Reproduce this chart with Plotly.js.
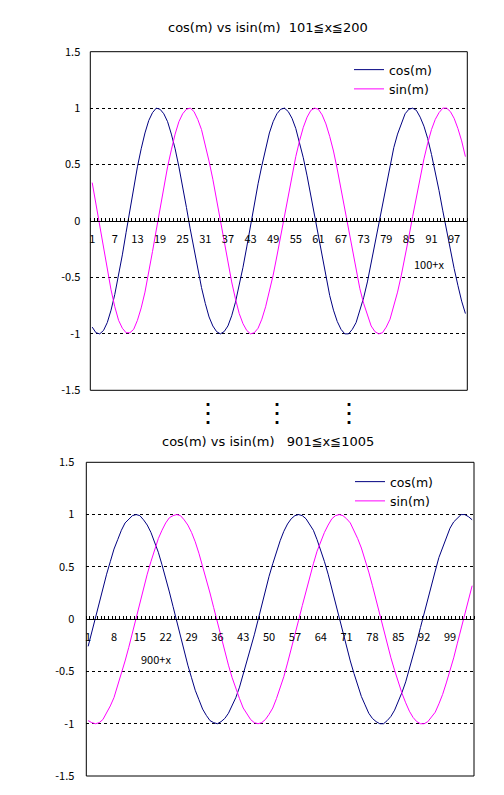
<!DOCTYPE html>
<html>
<head>
<meta charset="utf-8">
<script src="https://cdn.plot.ly/plotly-3.0.1.min.js"></script>
<style>html,body{margin:0;padding:0;background:#fff;}#chart{width:504px;height:795px;}</style>
</head>
<body>
<div id="chart"></div>
<script>
// ---- Top chart: 101 <= x <= 200 (category = x - 100) ----
const cosTop = [-0.94,-0.99,-1.00,-0.97,-0.90,-0.79,-0.65,-0.48,-0.30,-0.10,
  0.10,0.29,0.48,0.64,0.78,0.89,0.96,1.00,0.99,0.95,
  0.88,0.77,0.64,0.48,0.31,0.12,-0.07,-0.25,-0.43,-0.59,
  -0.73,-0.85,-0.93,-0.98,-1.00,-0.98,-0.93,-0.84,-0.72,-0.57,
  -0.41,-0.23,-0.04,0.15,0.33,0.49,0.65,0.78,0.88,0.95,
  0.99,1.00,0.97,0.91,0.82,0.70,0.56,0.40,0.22,0.04,
  -0.15,-0.33,-0.51,-0.66,-0.79,-0.89,-0.96,-1.00,-1.00,-0.96,
  -0.90,-0.80,-0.68,-0.54,-0.37,-0.20,-0.02,0.16,0.34,0.50,
  0.65,0.77,0.87,0.95,0.99,1.00,0.98,0.92,0.84,0.73,
  0.59,0.44,0.27,0.09,-0.09,-0.26,-0.42,-0.57,-0.71,-0.82];
const sinTop = [0.34,0.15,-0.06,-0.25,-0.44,-0.61,-0.76,-0.88,-0.95,-0.99,
  -0.99,-0.96,-0.88,-0.77,-0.63,-0.46,-0.27,-0.08,0.11,0.30,
  0.48,0.63,0.77,0.88,0.95,0.99,1.00,0.97,0.90,0.81,
  0.68,0.53,0.37,0.19,0.00,-0.19,-0.37,-0.54,-0.69,-0.82,
  -0.91,-0.97,-1.00,-0.99,-0.95,-0.87,-0.76,-0.63,-0.48,-0.31,
  -0.13,0.06,0.24,0.41,0.57,0.71,0.83,0.92,0.98,1.00,
  0.99,0.94,0.86,0.75,0.62,0.46,0.28,0.09,-0.09,-0.27,
  -0.44,-0.60,-0.73,-0.84,-0.93,-0.98,-1.00,-0.99,-0.94,-0.87,
  -0.76,-0.63,-0.48,-0.32,-0.14,0.04,0.21,0.39,0.55,0.69,
  0.81,0.90,0.96,1.00,1.00,0.97,0.91,0.82,0.71,0.57];
const tickTop = ['1','7','13','19','25','31','37','43','49','55','61','67','73','79','85','91','97'];

// ---- Bottom chart: 901 <= x <= 1005 (category = x - 900) ----
const cosBot = [-0.26,-0.12,0.01,0.16,0.30,0.43,0.55,0.67,0.76,0.85,
  0.92,0.96,0.99,1.00,0.99,0.95,0.90,0.83,0.74,0.64,
  0.52,0.40,0.26,0.12,-0.02,-0.17,-0.31,-0.44,-0.56,-0.68,
  -0.77,-0.86,-0.92,-0.97,-0.99,-1.00,-0.98,-0.95,-0.90,-0.83,
  -0.75,-0.65,-0.53,-0.41,-0.28,-0.15,-0.01,0.14,0.27,0.41,
  0.53,0.65,0.75,0.84,0.91,0.96,0.99,1.00,0.99,0.96,
  0.91,0.85,0.76,0.66,0.55,0.43,0.29,0.16,0.02,-0.13,
  -0.26,-0.40,-0.52,-0.63,-0.74,-0.82,-0.90,-0.95,-0.98,-1.00,
  -1.00,-0.97,-0.93,-0.87,-0.79,-0.70,-0.60,-0.48,-0.35,-0.22,
  -0.08,0.06,0.20,0.33,0.46,0.59,0.69,0.79,0.87,0.93,
  0.97,1.00,1.00,0.98,0.95];
const sinBot = [-0.97,-0.99,-1.00,-0.99,-0.96,-0.90,-0.83,-0.75,-0.64,-0.53,
  -0.40,-0.27,-0.13,0.01,0.16,0.30,0.43,0.55,0.67,0.77,
  0.85,0.92,0.97,0.99,1.00,0.99,0.95,0.90,0.83,0.74,
  0.63,0.51,0.39,0.25,0.11,-0.03,-0.17,-0.31,-0.44,-0.56,
  -0.67,-0.76,-0.85,-0.91,-0.96,-0.99,-1.00,-0.99,-0.96,-0.91,
  -0.85,-0.76,-0.66,-0.55,-0.42,-0.29,-0.15,-0.01,0.13,0.27,
  0.41,0.53,0.65,0.75,0.83,0.90,0.96,0.99,1.00,0.99,
  0.96,0.92,0.85,0.77,0.68,0.57,0.45,0.32,0.18,0.04,
  -0.10,-0.23,-0.37,-0.49,-0.61,-0.71,-0.80,-0.88,-0.94,-0.98,
  -1.00,-1.00,-0.98,-0.94,-0.89,-0.81,-0.72,-0.61,-0.50,-0.37,
  -0.23,-0.09,0.05,0.19,0.32];
const tickBot = ['1','8','15','22','29','36','43','50','57','64','71','78','85','92','99'];

const yTickVals = [-1.5,-1,-0.5,0,0.5,1,1.5];
const yTickText = ['-1.5','-1','-0.5','0','0.5','1','1.5'];

const idx = arr => arr.map((_, i) => i + 1);
const xTop = idx(cosTop), xBot = idx(cosBot);

const W = 504, H = 795;
const px = v => v / W, py = v => 1 - v / H;
const FONT = 'Noto Sans CJK JP, Noto Sans, sans-serif';
const WIDE = 'DejaVu Sans, Noto Sans CJK JP, sans-serif';
const NAVY = '#000080', MAG = '#FF00FF';

const traces = [
  {x: xTop, y: cosTop, name: 'cos(m)', type: 'scatter', mode: 'lines', line: {color: NAVY, width: 1}, xaxis: 'x', yaxis: 'y', legend: 'legend'},
  {x: xTop, y: sinTop, name: 'sin(m)', type: 'scatter', mode: 'lines', line: {color: MAG, width: 1}, xaxis: 'x', yaxis: 'y', legend: 'legend'},
  {x: xBot, y: cosBot, name: 'cos(m)', type: 'scatter', mode: 'lines', line: {color: NAVY, width: 1}, xaxis: 'x2', yaxis: 'y2', legend: 'legend2'},
  {x: xBot, y: sinBot, name: 'sin(m)', type: 'scatter', mode: 'lines', line: {color: MAG, width: 1}, xaxis: 'x2', yaxis: 'y2', legend: 'legend2'}
];

const topY = [py(390.3), py(51.7)];
const botY = [py(776), py(462.3)];

function xAxis(domain, yDom, n, labels) {
  const vals = labels.map(Number);
  return {
    domain: domain, anchor: 'free', position: (yDom[0] + yDom[1]) / 2,
    range: [0.5, n + 0.5], tickmode: 'array', tickvals: vals, ticktext: labels,
    showline: true, linecolor: '#000', linewidth: 1, showgrid: false, zeroline: false,
    ticks: '', ticklabelstandoff: 8,
    minor: {tickmode: 'linear', tick0: 0.5, dtick: 1, ticks: 'inside', ticklen: 3, tickcolor: '#000', tickwidth: 1, showgrid: false},
    tickfont: {family: FONT, size: 11, color: '#000'}, fixedrange: true
  };
}
function yAxis(domain, anchor, standoff) {
  return {
    domain: domain, anchor: anchor, range: [-1.5, 1.5],
    tickmode: 'array', tickvals: yTickVals, ticktext: yTickText,
    showgrid: true, gridcolor: '#000', gridwidth: 1, griddash: '3px,3px',
    zeroline: true, zerolinecolor: '#000', zerolinewidth: 1,
    showline: false, ticks: '', ticklabelstandoff: standoff,
    tickfont: {family: FONT, size: 11, color: '#000'}, fixedrange: true
  };
}

const layout = {
  width: W, height: H, margin: {l: 0, r: 0, t: 0, b: 0},
  paper_bgcolor: '#fff', plot_bgcolor: '#fff', showlegend: true,
  font: {family: FONT, size: 11, color: '#000'},
  xaxis: xAxis([px(90.3), px(467.3)], topY, cosTop.length, tickTop),
  yaxis: yAxis(topY, 'x', 9),
  xaxis2: xAxis([px(86.3), px(474)], botY, cosBot.length, tickBot),
  yaxis2: yAxis(botY, 'x2', 11),
  legend: {x: px(349), y: py(55), xanchor: 'left', yanchor: 'top', bgcolor: 'rgba(0,0,0,0)', borderwidth: 0,
           font: {family: WIDE, size: 12.5, color: '#000'}, tracegroupgap: 0},
  legend2: {x: px(350), y: py(467), xanchor: 'left', yanchor: 'top', bgcolor: 'rgba(0,0,0,0)', borderwidth: 0,
           font: {family: WIDE, size: 12.5, color: '#000'}, tracegroupgap: 0},
  shapes: [
    {type: 'rect', xref: 'x domain', yref: 'y domain', x0: 0, x1: 1, y0: 0, y1: 1, line: {color: '#000', width: 1}},
    {type: 'rect', xref: 'x2 domain', yref: 'y2 domain', x0: 0, x1: 1, y0: 0, y1: 1, line: {color: '#000', width: 1}}
  ],
  annotations: [
    {text: 'cos(m) vs isin(m)  101≦x≦200', x: px(268), y: py(28), xref: 'paper', yref: 'paper', showarrow: false, xanchor: 'center', yanchor: 'middle', font: {family: WIDE, size: 13}},
    {text: 'cos(m) vs isin(m)   901≦x≦1005', x: px(268), y: py(441), xref: 'paper', yref: 'paper', showarrow: false, xanchor: 'center', yanchor: 'middle', font: {family: WIDE, size: 13}},
    {text: '100+x', x: px(429.3), y: py(264.3), xref: 'paper', yref: 'paper', showarrow: false, xanchor: 'center', yanchor: 'middle', font: {family: FONT, size: 11}},
    {text: '900+x', x: px(156.3), y: py(659), xref: 'paper', yref: 'paper', showarrow: false, xanchor: 'center', yanchor: 'middle', font: {family: FONT, size: 11}},
    {text: '⋮', x: px(207.7), y: py(410), xref: 'paper', yref: 'paper', showarrow: false, xanchor: 'center', yanchor: 'middle', font: {family: FONT, size: 26}},
    {text: '⋮', x: px(277.3), y: py(410), xref: 'paper', yref: 'paper', showarrow: false, xanchor: 'center', yanchor: 'middle', font: {family: FONT, size: 26}},
    {text: '⋮', x: px(348.7), y: py(410), xref: 'paper', yref: 'paper', showarrow: false, xanchor: 'center', yanchor: 'middle', font: {family: FONT, size: 26}}
  ]
};

Plotly.newPlot('chart', traces, layout, {staticPlot: true, displayModeBar: false});
</script>
</body>
</html>
